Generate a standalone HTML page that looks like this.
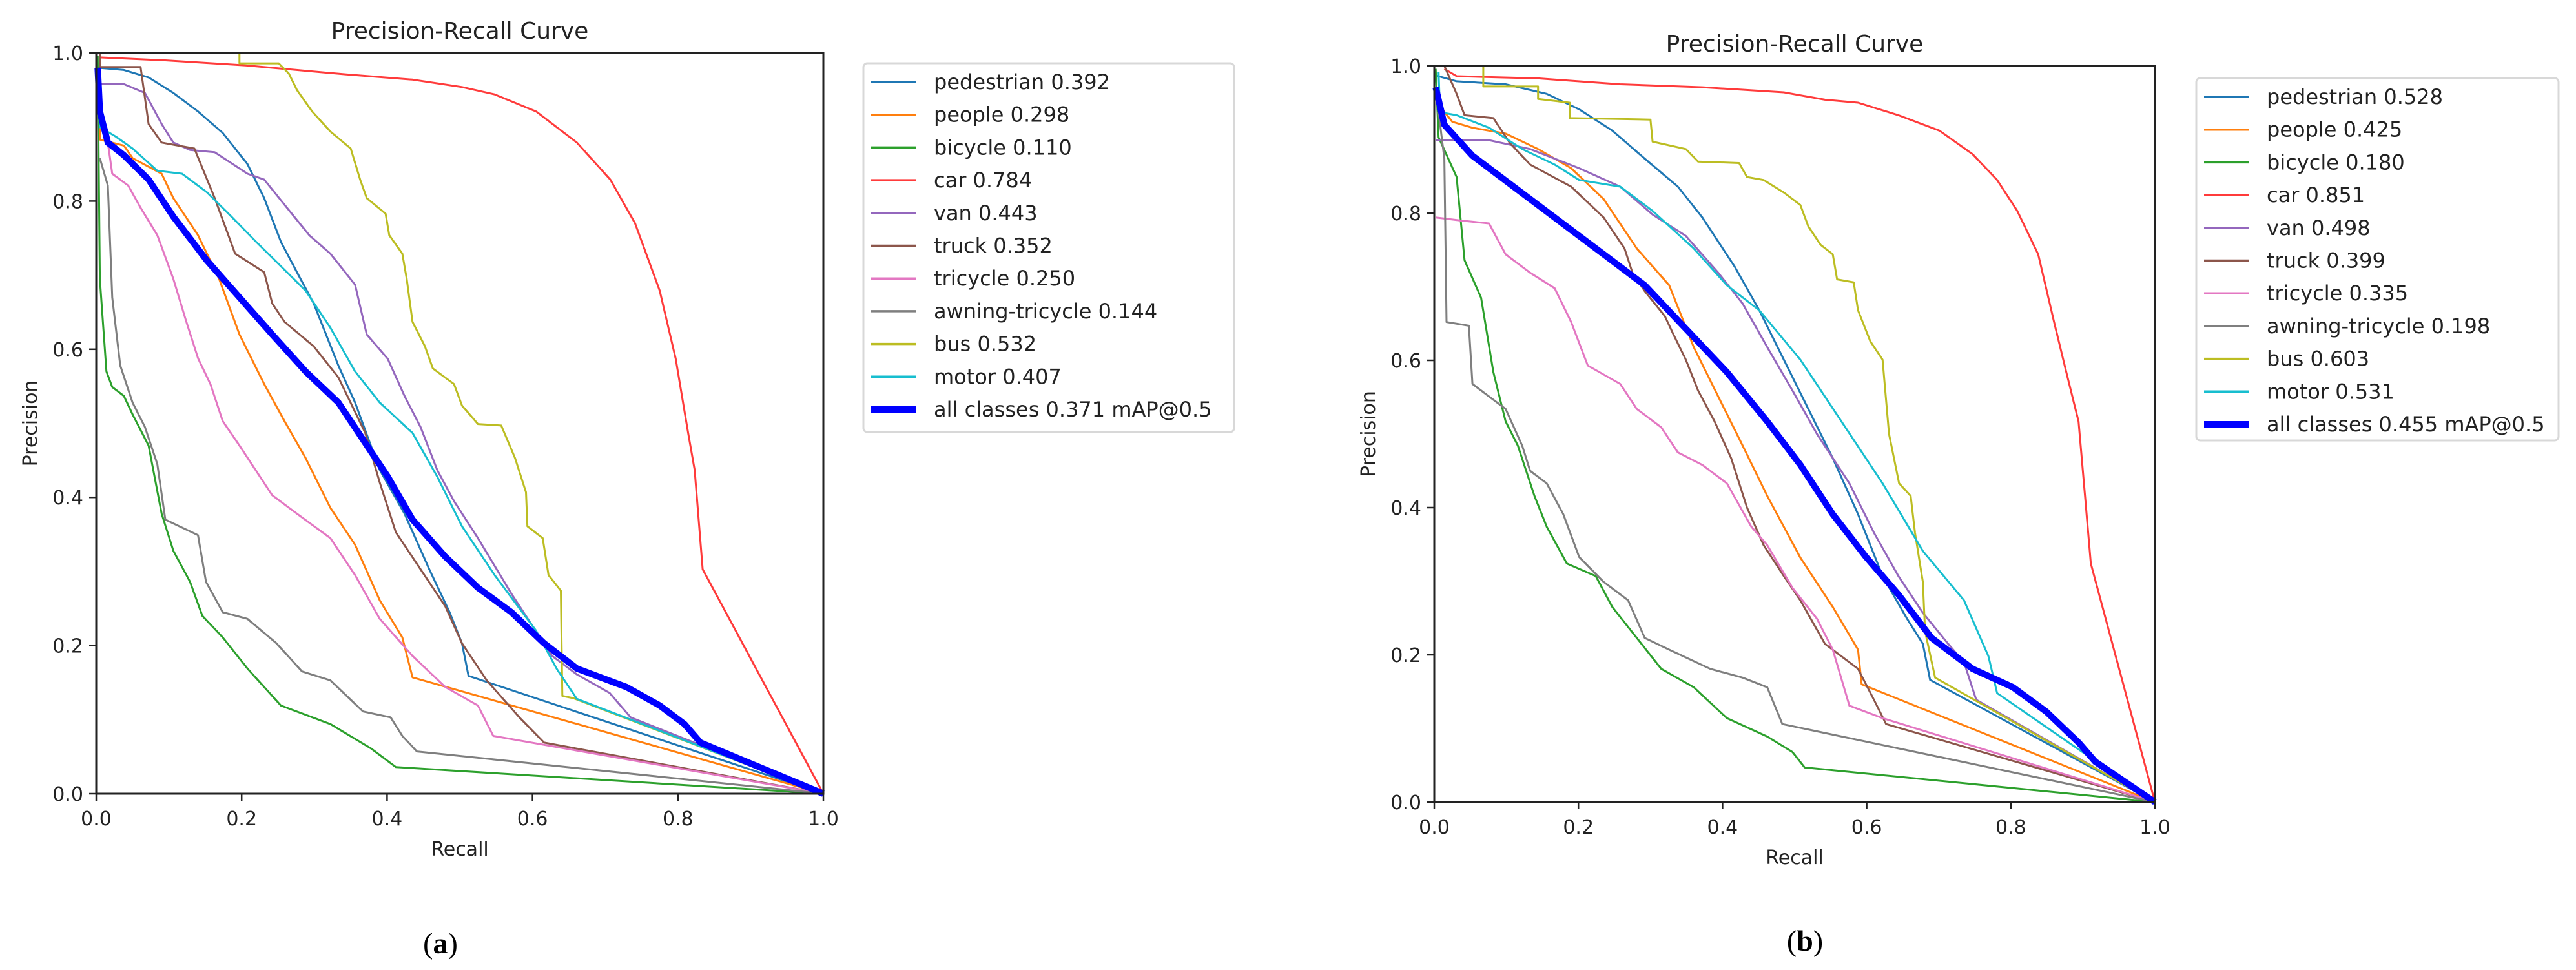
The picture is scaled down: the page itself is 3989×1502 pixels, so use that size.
<!DOCTYPE html>
<html><head><meta charset="utf-8"><style>
html,body{margin:0;padding:0;background:#fff;}
svg{display:block;font-family:"DejaVu Sans","Liberation Sans",sans-serif;}
</style></head><body>
<svg id="fig" width="3989" height="1502" viewBox="0 0 3989 1502" xmlns="http://www.w3.org/2000/svg"></svg>
<script>
const classNames = ["pedestrian","people","bicycle","car","van","truck","tricycle","awning-tricycle","bus","motor","all classes"];
const classColors = ["#1f77b4","#ff7f0e","#2ca02c","#ff3b3b","#9467bd","#8c564b","#e377c2","#7f7f7f","#bcbd22","#17becf","#0000ff"];
const apA = ["0.392","0.298","0.110","0.784","0.443","0.352","0.250","0.144","0.532","0.407","0.371"];
const apB = ["0.528","0.425","0.180","0.851","0.498","0.399","0.335","0.198","0.603","0.531","0.455"];
const tickValues = [0,0.2,0.4,0.6,0.8,1.0];
const tickLabels = ["0.0","0.2","0.4","0.6","0.8","1.0"];

// ---- Plot (a) ----
const rA_ped=[0.002,0.038,0.072,0.106,0.14,0.174,0.208,0.231,0.254,0.276,0.299,0.333,0.356,0.39,0.424,0.458,0.486,0.503,0.512,1];
const pA_ped=[0.98,0.977,0.967,0.946,0.921,0.892,0.85,0.804,0.745,0.704,0.662,0.578,0.528,0.437,0.378,0.303,0.245,0.203,0.159,0];
const rA_peo=[0.005,0.005,0.038,0.05,0.09,0.106,0.14,0.169,0.197,0.231,0.259,0.288,0.322,0.356,0.39,0.421,0.435,1];
const pA_peo=[0.947,0.883,0.875,0.858,0.837,0.804,0.754,0.695,0.62,0.553,0.503,0.453,0.386,0.336,0.261,0.211,0.157,0];
const rA_bic=[0.002,0.005,0.014,0.022,0.038,0.05,0.072,0.09,0.106,0.129,0.146,0.174,0.208,0.254,0.322,0.378,0.412,1];
const pA_bic=[0.996,0.695,0.57,0.549,0.537,0.512,0.47,0.378,0.328,0.286,0.24,0.211,0.169,0.119,0.094,0.061,0.036,0];
const rA_car=[0.005,0.095,0.208,0.344,0.435,0.503,0.548,0.605,0.661,0.707,0.741,0.775,0.797,0.814,0.823,0.834,1];
const pA_car=[0.994,0.99,0.983,0.971,0.964,0.954,0.944,0.921,0.879,0.829,0.77,0.679,0.587,0.487,0.437,0.303,0];
const rA_van=[0.002,0.038,0.067,0.09,0.106,0.129,0.163,0.208,0.231,0.259,0.293,0.322,0.356,0.372,0.401,0.424,0.446,0.469,0.492,0.525,0.571,0.627,0.661,0.706,0.735,1];
const pA_van=[0.958,0.958,0.946,0.904,0.879,0.869,0.866,0.837,0.829,0.795,0.754,0.729,0.687,0.62,0.587,0.537,0.495,0.437,0.395,0.345,0.27,0.186,0.161,0.136,0.103,0];
const rA_tru=[0.005,0.005,0.061,0.072,0.09,0.135,0.163,0.191,0.231,0.242,0.259,0.299,0.333,0.37,0.39,0.412,0.446,0.48,0.503,0.537,0.582,0.616,1];
const pA_tru=[1,0.981,0.981,0.904,0.879,0.871,0.804,0.729,0.704,0.662,0.637,0.604,0.562,0.487,0.42,0.353,0.303,0.253,0.203,0.153,0.103,0.069,0];
const rA_tri=[0.016,0.022,0.044,0.061,0.084,0.106,0.124,0.14,0.157,0.174,0.197,0.242,0.276,0.322,0.356,0.39,0.435,0.48,0.525,0.546,1];
const pA_tri=[0.879,0.837,0.821,0.791,0.754,0.695,0.637,0.588,0.553,0.503,0.47,0.403,0.378,0.345,0.295,0.236,0.186,0.144,0.119,0.078,0];
const rA_awn=[0.005,0.016,0.022,0.033,0.05,0.067,0.084,0.095,0.14,0.151,0.174,0.208,0.248,0.283,0.322,0.367,0.405,0.421,0.441,1];
const pA_awn=[0.858,0.821,0.67,0.578,0.528,0.495,0.445,0.37,0.349,0.286,0.245,0.236,0.203,0.165,0.153,0.111,0.103,0.078,0.057,0];
const rA_bus=[0.197,0.197,0.251,0.265,0.276,0.297,0.322,0.35,0.363,0.372,0.398,0.403,0.421,0.427,0.435,0.452,0.463,0.492,0.503,0.525,0.557,0.576,0.591,0.593,0.614,0.622,0.639,0.641,0.656,1];
const pA_bus=[1,0.986,0.986,0.972,0.95,0.921,0.894,0.871,0.829,0.804,0.783,0.754,0.729,0.695,0.637,0.604,0.574,0.553,0.524,0.499,0.497,0.453,0.407,0.361,0.345,0.295,0.274,0.132,0.129,0];
const rA_mot=[0.002,0.005,0.027,0.05,0.084,0.118,0.152,0.186,0.22,0.254,0.288,0.322,0.356,0.39,0.435,0.469,0.503,0.548,0.605,0.633,0.661,1];
const pA_mot=[0.962,0.9,0.887,0.871,0.841,0.837,0.812,0.779,0.745,0.712,0.679,0.629,0.57,0.528,0.487,0.428,0.361,0.295,0.22,0.169,0.128,0];
const rA_all=[0.002,0.005,0.016,0.038,0.072,0.106,0.152,0.197,0.242,0.288,0.333,0.367,0.401,0.435,0.48,0.525,0.571,0.616,0.661,0.729,0.775,0.809,0.831,1];
const pA_all=[0.98,0.921,0.879,0.862,0.829,0.779,0.72,0.67,0.62,0.57,0.528,0.478,0.428,0.37,0.32,0.278,0.245,0.203,0.169,0.144,0.119,0.094,0.069,0];

// ---- Plot (b) ----
const rB_ped=[0.002,0.031,0.099,0.156,0.201,0.247,0.292,0.338,0.372,0.417,0.451,0.485,0.519,0.553,0.588,0.622,0.656,0.678,0.688,1];
const pB_ped=[0.987,0.979,0.975,0.962,0.941,0.912,0.874,0.836,0.794,0.727,0.668,0.601,0.534,0.467,0.391,0.307,0.249,0.215,0.166,0];
const rB_peo=[0.008,0.025,0.053,0.099,0.144,0.19,0.235,0.281,0.326,0.36,0.394,0.428,0.462,0.508,0.553,0.588,0.593,1];
const pB_peo=[0.945,0.924,0.916,0.908,0.887,0.861,0.819,0.752,0.702,0.618,0.551,0.484,0.416,0.332,0.265,0.207,0.16,0];
const rB_bic=[0.002,0.006,0.031,0.042,0.065,0.082,0.099,0.116,0.139,0.156,0.184,0.224,0.247,0.281,0.315,0.36,0.406,0.462,0.497,0.514,1];
const pB_bic=[0.996,0.903,0.849,0.736,0.685,0.584,0.517,0.484,0.416,0.374,0.324,0.307,0.265,0.223,0.181,0.156,0.114,0.089,0.068,0.047,0];
const rB_car=[0.014,0.031,0.144,0.258,0.372,0.485,0.542,0.588,0.644,0.701,0.747,0.781,0.809,0.838,0.86,0.877,0.894,0.903,0.911,1];
const pB_car=[0.996,0.986,0.983,0.975,0.971,0.964,0.954,0.95,0.933,0.912,0.88,0.845,0.803,0.744,0.652,0.584,0.517,0.416,0.324,0];
const rB_van=[0.002,0.076,0.133,0.201,0.258,0.303,0.349,0.394,0.428,0.462,0.497,0.531,0.576,0.61,0.644,0.678,0.713,0.735,0.752,1];
const pB_van=[0.899,0.899,0.887,0.861,0.836,0.798,0.769,0.719,0.677,0.618,0.559,0.5,0.433,0.366,0.307,0.257,0.215,0.19,0.139,0];
const rB_tru=[0.014,0.031,0.042,0.082,0.105,0.133,0.19,0.235,0.264,0.275,0.292,0.32,0.332,0.349,0.366,0.389,0.412,0.434,0.457,0.485,0.508,0.542,0.588,0.61,0.627,1];
const pB_tru=[1,0.962,0.933,0.929,0.895,0.866,0.836,0.794,0.752,0.719,0.694,0.66,0.635,0.601,0.559,0.517,0.467,0.4,0.349,0.307,0.274,0.215,0.181,0.139,0.106,0];
const rB_tri=[0.002,0.036,0.076,0.099,0.133,0.167,0.19,0.213,0.258,0.281,0.315,0.338,0.372,0.406,0.44,0.462,0.497,0.531,0.553,0.576,0.622,1];
const pB_tri=[0.794,0.79,0.786,0.744,0.719,0.698,0.652,0.593,0.568,0.534,0.509,0.475,0.458,0.433,0.374,0.349,0.291,0.249,0.207,0.131,0.114,0];
const rB_awn=[0.006,0.014,0.017,0.048,0.053,0.076,0.099,0.122,0.133,0.156,0.179,0.201,0.235,0.269,0.292,0.326,0.383,0.428,0.462,0.483,1];
const pB_awn=[0.937,0.874,0.652,0.647,0.568,0.551,0.534,0.484,0.45,0.433,0.391,0.333,0.299,0.274,0.223,0.207,0.181,0.169,0.156,0.106,0];
const rB_bus=[0.068,0.068,0.144,0.144,0.188,0.188,0.3,0.303,0.349,0.366,0.423,0.434,0.457,0.485,0.508,0.519,0.536,0.553,0.559,0.582,0.588,0.605,0.622,0.631,0.645,0.661,0.667,0.678,0.681,0.695,1];
const pB_bus=[1,0.972,0.972,0.955,0.95,0.929,0.927,0.897,0.887,0.87,0.868,0.849,0.845,0.828,0.811,0.782,0.757,0.744,0.71,0.706,0.668,0.626,0.601,0.5,0.433,0.416,0.366,0.299,0.232,0.169,0];
const rB_mot=[0.006,0.008,0.031,0.076,0.122,0.167,0.201,0.258,0.303,0.36,0.406,0.451,0.508,0.565,0.622,0.678,0.735,0.769,0.781,1];
const pB_mot=[0.992,0.937,0.933,0.916,0.887,0.866,0.845,0.836,0.803,0.752,0.702,0.668,0.601,0.517,0.433,0.341,0.274,0.198,0.148,0];
const rB_all=[0.002,0.014,0.053,0.11,0.178,0.235,0.292,0.349,0.406,0.462,0.508,0.553,0.599,0.644,0.69,0.747,0.803,0.849,0.894,0.917,1];
const pB_all=[0.971,0.92,0.878,0.836,0.786,0.744,0.702,0.643,0.584,0.517,0.458,0.391,0.333,0.282,0.223,0.181,0.156,0.123,0.081,0.055,0];

const seriesA=[[rA_ped,pA_ped],[rA_peo,pA_peo],[rA_bic,pA_bic],[rA_car,pA_car],[rA_van,pA_van],[rA_tru,pA_tru],[rA_tri,pA_tri],[rA_awn,pA_awn],[rA_bus,pA_bus],[rA_mot,pA_mot],[rA_all,pA_all]];
const seriesB=[[rB_ped,pB_ped],[rB_peo,pB_peo],[rB_bic,pB_bic],[rB_car,pB_car],[rB_van,pB_van],[rB_tru,pB_tru],[rB_tri,pB_tri],[rB_awn,pB_awn],[rB_bus,pB_bus],[rB_mot,pB_mot],[rB_all,pB_all]];

const NS="http://www.w3.org/2000/svg";
const svg=document.getElementById('fig');
function mk(tag,attrs,parent){const e=document.createElementNS(NS,tag);for(const k in attrs)e.setAttribute(k,attrs[k]);(parent||svg).appendChild(e);return e;}

function drawPlot(cfg,series,aps,id){
  const g=mk('g',{});
  
  
  const xs=v=>cfg.x0+(cfg.x1-cfg.x0)*v;
  const ys=v=>cfg.y1-(cfg.y1-cfg.y0)*v;
  // series
  for(let i=0;i<series.length;i++){
    const [r,p]=series[i];
    const pts=r.map((rv,j)=>xs(rv).toFixed(1)+','+ys(p[j]).toFixed(1)).join(' ');
    const pl=mk('polyline',{points:pts,fill:'none',stroke:classColors[i],'stroke-width':i===10?10:3,'stroke-linejoin':'round'},g);
    
    
  }
  // frame
  const fr=mk('rect',{x:cfg.x0,y:cfg.y0,width:cfg.x1-cfg.x0,height:cfg.y1-cfg.y0,fill:'none',stroke:'#222','stroke-width':3},g);
  
  
  // ticks
  for(let i=0;i<tickValues.length;i++){
    const tx=xs(tickValues[i]), ty=ys(tickValues[i]);
    mk('line',{x1:tx,y1:cfg.y1,x2:tx,y2:cfg.y1+11,stroke:'#222','stroke-width':2.5},g);
    const xl=mk('text',{x:tx,y:cfg.y1+49,'font-size':30,'text-anchor':'middle',fill:'#222'},g);
    xl.textContent=tickLabels[i];
    
    
    mk('line',{x1:cfg.x0-11,y1:ty,x2:cfg.x0,y2:ty,stroke:'#222','stroke-width':2.5},g);
    const yl=mk('text',{x:cfg.x0-20,y:ty+11,'font-size':30,'text-anchor':'end',fill:'#222'},g);
    yl.textContent=tickLabels[i];
    
    
  }
  const cx=(cfg.x0+cfg.x1)/2;
  const t=mk('text',{x:cx,y:cfg.y0-22,'font-size':36,'text-anchor':'middle',fill:'#222'},g);
  t.textContent='Precision-Recall Curve';
  
  
  const xt=mk('text',{x:cx,y:cfg.y1+96,'font-size':30,'text-anchor':'middle',fill:'#222'},g);
  xt.textContent='Recall';
  
  
  const ymid=(cfg.y0+cfg.y1)/2;
  const yt=mk('text',{x:cfg.x0-92,y:ymid,'font-size':30,'text-anchor':'middle',fill:'#222',transform:'rotate(-90 '+(cfg.x0-92)+' '+ymid+')'},g);
  yt.textContent='Precision';
  
  
  // legend
  const lg=mk('g',{},g);
  
  
  mk('rect',{x:cfg.lx0,y:cfg.ly0,width:cfg.lx1-cfg.lx0,height:cfg.ly1-cfg.ly0,rx:6,fill:'#fff',stroke:'#d8d8d8','stroke-width':3},lg);
  for(let i=0;i<classNames.length;i++){
    const yy=cfg.ly0+29+i*50.7;
    const e=mk('g',{},lg);
    
    
    mk('line',{x1:cfg.lx0+12,y1:yy,x2:cfg.lx0+82,y2:yy,stroke:classColors[i],'stroke-width':i===10?10:3.5},e);
    const tx=mk('text',{x:cfg.lx0+109,y:yy+11,'font-size':32,fill:'#222'},e);
    tx.textContent=classNames[i]+' '+aps[i]+(i===10?' mAP@0.5':'');
  }
  const cap=mk('text',{x:cfg.capx,y:cfg.capy,'font-size':46,'text-anchor':'middle',fill:'#000','font-family':'"Liberation Serif",serif'},g);
  cap.innerHTML='(<tspan font-weight="bold">'+id+'</tspan>)';
  
  
}

drawPlot({x0:149,x1:1275,y0:82,y1:1229,lx0:1337,lx1:1911,ly0:98,ly1:669,capx:682,capy:1476},seriesA,apA,'a');
drawPlot({x0:2221,x1:3337,y0:102,y1:1242,lx0:3401,lx1:3962,ly0:121,ly1:682,capx:2795,capy:1472},seriesB,apB,'b');
</script>
</body></html>
